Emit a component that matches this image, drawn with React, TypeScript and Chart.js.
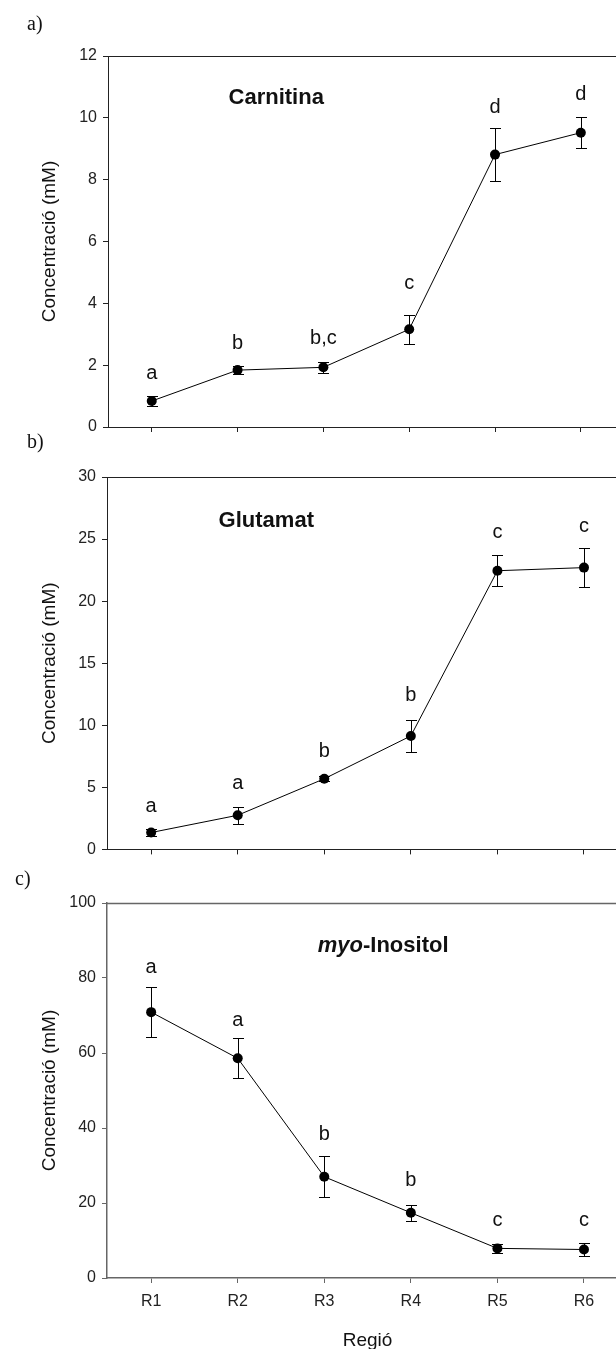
import React, { useEffect, useRef } from 'react';
import { Chart, registerables } from 'chart.js';

Chart.register(...registerables);

// ---------- data ----------
const regions = ['R1', 'R2', 'R3', 'R4', 'R5', 'R6'];

const carnitinaMean = [0.84, 1.84, 1.93, 3.16, 8.81, 9.52];
const carnitinaErr = [0.17, 0.12, 0.17, 0.47, 0.85, 0.5];
const carnitinaLetters = ['a', 'b', 'b,c', 'c', 'd', 'd'];
const carnitinaLetterAt = [1.55, 2.52, 2.7, 4.45, 10.16, 10.58];
const carnitinaTicks = [0, 2, 4, 6, 8, 10, 12];

const glutamatMean = [1.36, 2.75, 5.69, 9.14, 22.45, 22.7];
const glutamatErr = [0.3, 0.69, 0.2, 1.3, 1.25, 1.6];
const glutamatLetters = ['a', 'a', 'b', 'b', 'c', 'c'];
const glutamatLetterAt = [3.05, 4.9, 7.46, 11.95, 25.1, 25.6];
const glutamatTicks = [0, 5, 10, 15, 20, 25, 30];

const inositolMean = [70.9, 58.6, 27.0, 17.4, 7.9, 7.6];
const inositolErr = [6.6, 5.3, 5.5, 2.1, 1.2, 1.7];
const inositolLetters = ['a', 'a', 'b', 'b', 'c', 'c'];
const inositolLetterAt = [81.3, 67.2, 36.8, 24.5, 13.9, 13.9];
const inositolTicks = [0, 20, 40, 60, 80, 100];

const yTitle = 'Concentració (mM)';
const xTitle = 'Regió';

// ---------- layout / style ----------
const SANS = '"Liberation Sans", Arial, sans-serif';
const SERIF = '"Liberation Serif", "Times New Roman", serif';

type Part = { text: string; italic?: boolean };
type PanelCfg = {
  mean: number[];
  err: number[];
  letters: string[];
  letterAt: number[];
  ticks: number[];
  title: Part[];
  titleX: number;
  titleY: number;
  canvasTop: number;
  canvasH: number;
  padTop: number;
  axisW: number;
  xAxisH: number;
  xMin: number;
  xMax: number;
  showX: boolean;
  frameColor: string;
  frameWidth: number;
};

const panels: PanelCfg[] = [
  {
    mean: carnitinaMean, err: carnitinaErr, letters: carnitinaLetters, letterAt: carnitinaLetterAt,
    ticks: carnitinaTicks, title: [{ text: 'Carnitina' }], titleX: 2.45, titleY: 10.45,
    canvasTop: 0, canvasH: 445, padTop: 56, axisW: 108, xAxisH: 18, xMin: 0.49, xMax: 6.41, showX: false,
    frameColor: '#222', frameWidth: 1,
  },
  {
    mean: glutamatMean, err: glutamatErr, letters: glutamatLetters, letterAt: glutamatLetterAt,
    ticks: glutamatTicks, title: [{ text: 'Glutamat' }], titleX: 2.33, titleY: 26.0,
    canvasTop: 445, canvasH: 420, padTop: 32, axisW: 107, xAxisH: 14, xMin: 0.49, xMax: 6.37, showX: false,
    frameColor: '#222', frameWidth: 1,
  },
  {
    mean: inositolMean, err: inositolErr, letters: inositolLetters, letterAt: inositolLetterAt,
    ticks: inositolTicks, title: [{ text: 'myo', italic: true }, { text: '-Inositol' }], titleX: 3.68, titleY: 86.9,
    canvasTop: 865, canvasH: 484, padTop: 38, axisW: 107, xAxisH: 71, xMin: 0.49, xMax: 6.37, showX: true,
    frameColor: '#666', frameWidth: 1.5,
  },
];

function makePlugin(p: PanelCfg) {
  return {
    id: 'extras',
    beforeDatasetsDraw(chart: any) {
      const { ctx, chartArea } = chart;
      const x = chart.scales.x;
      const y = chart.scales.y;
      ctx.save();
      ctx.strokeStyle = p.frameColor;
      ctx.lineWidth = p.frameWidth;
      ctx.beginPath();
      ctx.moveTo(chartArea.left, chartArea.top + 0.5);
      ctx.lineTo(chartArea.right, chartArea.top + 0.5);
      ctx.stroke();

      ctx.strokeStyle = '#000';
      ctx.lineWidth = 1;
      p.mean.forEach((m, i) => {
        const px = Math.round(x.getPixelForValue(i + 1)) + 0.5;
        const yt = Math.round(y.getPixelForValue(m + p.err[i])) + 0.5;
        const yb = Math.round(y.getPixelForValue(m - p.err[i])) + 0.5;
        ctx.beginPath();
        ctx.moveTo(px, yt);
        ctx.lineTo(px, yb);
        ctx.moveTo(px - 5.5, yt);
        ctx.lineTo(px + 5.5, yt);
        ctx.moveTo(px - 5.5, yb);
        ctx.lineTo(px + 5.5, yb);
        ctx.stroke();
      });
      ctx.restore();
    },
    afterDatasetsDraw(chart: any) {
      const { ctx, chartArea } = chart;
      const x = chart.scales.x;
      const y = chart.scales.y;
      ctx.save();
      ctx.fillStyle = '#111';
      ctx.textAlign = 'center';
      ctx.textBaseline = 'alphabetic';
      ctx.font = `20px ${SANS}`;
      p.letters.forEach((l, i) => {
        ctx.fillText(l, x.getPixelForValue(i + 1), y.getPixelForValue(p.letterAt[i]));
      });

      // panel title
      ctx.textAlign = 'left';
      const fonts = p.title.map((t) => `${t.italic ? 'italic ' : ''}bold 22px ${SANS}`);
      let total = 0;
      const widths = p.title.map((t, i) => {
        ctx.font = fonts[i];
        const w = ctx.measureText(t.text).width;
        total += w;
        return w;
      });
      let cx = x.getPixelForValue(p.titleX) - total / 2;
      const ty = y.getPixelForValue(p.titleY);
      p.title.forEach((t, i) => {
        ctx.font = fonts[i];
        ctx.fillText(t.text, cx, ty);
        cx += widths[i];
      });

      if (p.showX) {
        ctx.textAlign = 'center';
        ctx.font = `19px ${SANS}`;
        ctx.fillText(xTitle, x.getPixelForValue(3.5), chartArea.bottom + 68);
      }
      ctx.restore();
    },
  };
}

function PanelChart({ p }: { p: PanelCfg }) {
  const ref = useRef<HTMLCanvasElement>(null);
  useEffect(() => {
    if (!ref.current) return;
    const chart = new Chart(ref.current, {
      type: 'line',
      data: {
        datasets: [
          {
            data: p.mean.map((v, i) => ({ x: i + 1, y: v })),
            borderColor: '#000',
            borderWidth: 1,
            backgroundColor: '#000',
            pointBackgroundColor: '#000',
            pointBorderWidth: 0,
            pointRadius: 5,
            tension: 0,
            fill: false,
            clip: false,
          },
        ],
      },
      options: {
        responsive: false,
        animation: false,
        events: [],
        layout: { autoPadding: false, padding: { top: p.padTop, right: 0, left: 0, bottom: 0 } },
        plugins: { legend: { display: false }, tooltip: { enabled: false }, title: { display: false } },
        scales: {
          x: {
            type: 'linear',
            min: p.xMin,
            max: p.xMax,
            afterBuildTicks: (scale: any) => {
              scale.ticks = regions.map((_, i) => ({ value: i + 1 }));
            },
            afterFit: (scale: any) => {
              scale.height = p.xAxisH;
              scale.paddingLeft = 0;
              scale.paddingRight = 0;
            },
            ticks: {
              autoSkip: false,
              maxRotation: 0,
              padding: 9,
              color: '#222',
              font: { family: SANS, size: 16 },
              callback: (v: any) => (p.showX ? regions[Math.round(Number(v)) - 1] ?? '' : ''),
            },
            grid: { display: true, drawOnChartArea: false, drawTicks: true, tickLength: 5, color: p.frameColor, lineWidth: 1 },
            border: { display: true, color: p.frameColor, width: p.frameWidth },
          },
          y: {
            type: 'linear',
            min: p.ticks[0],
            max: p.ticks[p.ticks.length - 1],
            afterBuildTicks: (scale: any) => {
              scale.ticks = p.ticks.map((v) => ({ value: v }));
            },
            afterFit: (scale: any) => {
              scale.width = p.axisW;
            },
            ticks: {
              padding: 6,
              color: '#222',
              font: { family: SANS, size: 16 },
            },
            title: {
              display: true,
              text: yTitle,
              color: '#111',
              font: { family: SANS, size: 19, lineHeight: 1.2 },
              padding: { top: 38, bottom: 0 },
            },
            grid: { display: true, drawOnChartArea: false, drawTicks: true, tickLength: 5, color: p.frameColor, lineWidth: 1 },
            border: { display: true, color: p.frameColor, width: p.frameWidth },
          },
        },
      },
      plugins: [makePlugin(p)],
    } as any);
    return () => chart.destroy();
  }, [p]);
  return (
    <canvas
      ref={ref}
      width={616}
      height={p.canvasH}
      style={{ position: 'absolute', left: 0, top: p.canvasTop, width: 616, height: p.canvasH }}
    />
  );
}

const tagStyle = (left: number, top: number): React.CSSProperties => ({
  position: 'absolute',
  left,
  top,
  fontFamily: SERIF,
  fontSize: 20,
  lineHeight: '20px',
  color: '#111',
  zIndex: 2,
});

export default function App() {
  return (
    <div style={{ position: 'absolute', left: 0, top: 0, width: 616, height: 1349, overflow: 'hidden', background: '#fff' }}>
      {panels.map((p, i) => (
        <PanelChart key={i} p={p} />
      ))}
      <div style={tagStyle(27, 13)}>a)</div>
      <div style={tagStyle(27, 431)}>b)</div>
      <div style={tagStyle(15, 868)}>c)</div>
    </div>
  );
}
